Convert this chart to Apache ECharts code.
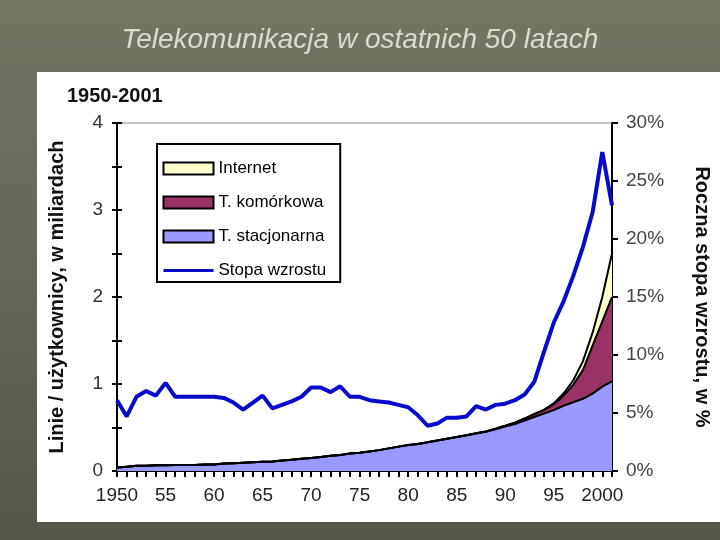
<!DOCTYPE html>
<html>
<head>
<meta charset="utf-8">
<script src="https://cdn.jsdelivr.net/npm/echarts@6/dist/echarts.min.js"></script>
<style>
  html, body { margin: 0; padding: 0; }
  #chart { width: 720px; height: 540px; }
</style>
</head>
<body>
<div id="chart"></div>
<script>
const chart = echarts.init(document.getElementById('chart'))

// Years on the x axis
const years = [
  1950, 1951, 1952, 1953, 1954, 1955, 1956, 1957, 1958, 1959,
  1960, 1961, 1962, 1963, 1964, 1965, 1966, 1967, 1968, 1969,
  1970, 1971, 1972, 1973, 1974, 1975, 1976, 1977, 1978, 1979,
  1980, 1981, 1982, 1983, 1984, 1985, 1986, 1987, 1988, 1989,
  1990, 1991, 1992, 1993, 1994, 1995, 1996, 1997, 1998, 1999,
  2000, 2001,
]

// Fixed lines, billions
const fixedLines = [
  0.04, 0.05, 0.06, 0.06, 0.065, 0.065, 0.07, 0.07, 0.07, 0.075,
  0.075, 0.085, 0.09, 0.095, 0.1, 0.105, 0.11, 0.12, 0.13, 0.14,
  0.15, 0.16, 0.175, 0.185, 0.2, 0.21, 0.225, 0.24, 0.26, 0.28,
  0.3, 0.31, 0.33, 0.35, 0.37, 0.39, 0.41, 0.43, 0.45, 0.48,
  0.51, 0.54, 0.58, 0.62, 0.66, 0.7, 0.75, 0.79, 0.83, 0.89,
  0.97, 1.03,
]

// Mobile subscribers, billions
const mobile = [
  0, 0, 0, 0, 0, 0, 0, 0, 0, 0,
  0, 0, 0, 0, 0, 0, 0, 0, 0, 0,
  0, 0, 0, 0, 0, 0, 0, 0, 0, 0,
  0, 0, 0, 0, 0.001, 0.001, 0.002, 0.003, 0.004, 0.007,
  0.011, 0.016, 0.023, 0.034, 0.04, 0.065, 0.115, 0.2, 0.33, 0.55,
  0.75, 0.97,
]

// Internet users, billions
const internet = [
  0, 0, 0, 0, 0, 0, 0, 0, 0, 0,
  0, 0, 0, 0, 0, 0, 0, 0, 0, 0,
  0, 0, 0, 0, 0, 0, 0, 0, 0, 0,
  0, 0, 0, 0, 0, 0, 0, 0, 0, 0,
  0, 0, 0, 0.003, 0.006, 0.012, 0.025, 0.05, 0.1, 0.15,
  0.28, 0.5,
]

// Annual growth rate, %
const growth = [
  6.1, 4.7, 6.4, 6.9, 6.5, 7.6, 6.4, 6.4, 6.4, 6.4,
  6.4, 6.3, 5.9, 5.3, 5.9, 6.5, 5.4, 5.7, 6.0, 6.4,
  7.2, 7.2, 6.8, 7.3, 6.4, 6.4, 6.1, 6.0, 5.9, 5.7,
  5.5, 4.8, 3.9, 4.1, 4.6, 4.6, 4.7, 5.6, 5.3, 5.7,
  5.8, 6.1, 6.6, 7.7, 10.3, 12.8, 14.6, 16.8, 19.3, 22.3,
  27.5, 22.9,
]

const font = 'Liberation Sans, Arial, sans-serif'

const option = {
  backgroundColor: {
    type: 'linear', x: 0, y: 0, x2: 0, y2: 1,
    colorStops: [
      { offset: 0, color: '#747563' },
      { offset: 1, color: '#56574b' },
    ],
  },
  animation: false,
  textStyle: { fontFamily: font },
  graphic: [
    {
      type: 'rect',
      shape: { x: 37, y: 72, width: 683, height: 450 },
      style: { fill: '#ffffff' },
      z: -10,
    },
  ],
  title: [
    {
      text: 'Telekomunikacja w ostatnich 50 latach',
      left: 'center',
      top: 21,
      textStyle: {
        color: '#dcdccd',
        fontSize: 28,
        fontStyle: 'italic',
        fontWeight: 'normal',
        fontFamily: font,
      },
    },
    {
      text: '1950-2001',
      left: 62,
      top: 81,
      textStyle: { color: '#111', fontSize: 20, fontWeight: 'bold', fontFamily: font },
    },
  ],
  legend: {
    orient: 'vertical',
    left: 157,
    top: 144,
    backgroundColor: '#fff',
    borderColor: '#000',
    borderWidth: 2,
    padding: [16, 14, 3, 5],
    itemWidth: 50,
    itemHeight: 12,
    itemGap: 17,
    textStyle: { color: '#000', fontSize: 17, fontFamily: font },
    data: [
      { name: 'Internet', icon: 'rect', itemStyle: { borderColor: '#000', borderWidth: 2 } },
      { name: 'T. komórkowa', icon: 'rect', itemStyle: { borderColor: '#000', borderWidth: 2 } },
      { name: 'T. stacjonarna', icon: 'rect', itemStyle: { borderColor: '#000', borderWidth: 2 } },
      { name: 'Stopa wzrostu', itemStyle: { opacity: 0 }, lineStyle: { width: 3 } },
    ],
  },
  grid: {
    left: 117,
    right: 105,
    top: 123,
    bottom: 69,
    show: true,
    borderColor: '#888',
    borderWidth: 1,
  },
  xAxis: {
    type: 'category',
    data: years,
    boundaryGap: false,
    axisLine: { lineStyle: { color: '#000', width: 2 } },
    axisTick: { interval: 0, length: 6, lineStyle: { color: '#000', width: 2 } },
    axisLabel: {
      interval: (index) => index % 5 === 0,
      formatter: (v) => (v === '1950' || v === '2000' ? v : String(v).slice(2)),
      color: '#222',
      fontSize: 19,
      margin: 15,
    },
    splitLine: { show: false },
  },
  yAxis: [
    {
      type: 'value',
      min: 0,
      max: 4,
      interval: 0.5,
      position: 'left',
      name: 'Linie / użytkownicy, w miliardach',
      nameLocation: 'middle',
      nameGap: 50,
      nameTextStyle: { color: '#111', fontSize: 20, fontWeight: 'bold', fontFamily: font },
      axisLine: { show: true, lineStyle: { color: '#000', width: 2 } },
      axisTick: { show: true, length: 5, lineStyle: { color: '#000', width: 2 } },
      axisLabel: {
        formatter: (v) => (Number.isInteger(v) ? String(v) : ''),
        color: '#333',
        fontSize: 19,
        margin: 14,
      },
      splitLine: { show: false },
    },
    {
      type: 'value',
      min: 0,
      max: 30,
      interval: 5,
      position: 'right',
      name: 'Roczna stopa wzrostu, w %',
      nameLocation: 'middle',
      nameRotate: -90,
      nameGap: 80,
      nameTextStyle: { color: '#111', fontSize: 20, fontWeight: 'bold', fontFamily: font },
      axisLine: { show: true, lineStyle: { color: '#000', width: 2 } },
      axisTick: { show: true, length: 6, lineStyle: { color: '#000', width: 2 } },
      axisLabel: { formatter: '{value}%', color: '#444', fontSize: 19, margin: 14 },
      splitLine: { show: false },
    },
    {
      // inner half of the crossing ticks on the left axis
      type: 'value',
      min: 0,
      max: 4,
      interval: 0.5,
      position: 'left',
      axisLine: { show: false },
      axisTick: { show: true, inside: true, length: 5, lineStyle: { color: '#000', width: 2 } },
      axisLabel: { show: false },
      splitLine: { show: false },
    },
  ],
  series: [
    {
      name: 'T. stacjonarna',
      type: 'line',
      stack: 'users',
      data: fixedLines,
      color: '#9999ff',
      symbol: 'none',
      lineStyle: { color: '#000', width: 2 },
      areaStyle: { color: '#9999ff', opacity: 1 },
      z: 2,
    },
    {
      name: 'T. komórkowa',
      type: 'line',
      stack: 'users',
      data: mobile,
      color: '#993366',
      symbol: 'none',
      lineStyle: { color: '#000', width: 2 },
      areaStyle: { color: '#993366', opacity: 1 },
      z: 2,
    },
    {
      name: 'Internet',
      type: 'line',
      stack: 'users',
      data: internet,
      color: '#ffffcc',
      symbol: 'none',
      lineStyle: { color: '#000', width: 2 },
      areaStyle: { color: '#ffffcc', opacity: 1 },
      z: 2,
    },
    {
      name: 'Stopa wzrostu',
      type: 'line',
      yAxisIndex: 1,
      data: growth,
      color: '#0a0acc',
      symbol: 'none',
      lineStyle: { color: '#0a0acc', width: 4 },
      z: 4,
    },
  ],
}

chart.setOption(option)
</script>
</body>
</html>
